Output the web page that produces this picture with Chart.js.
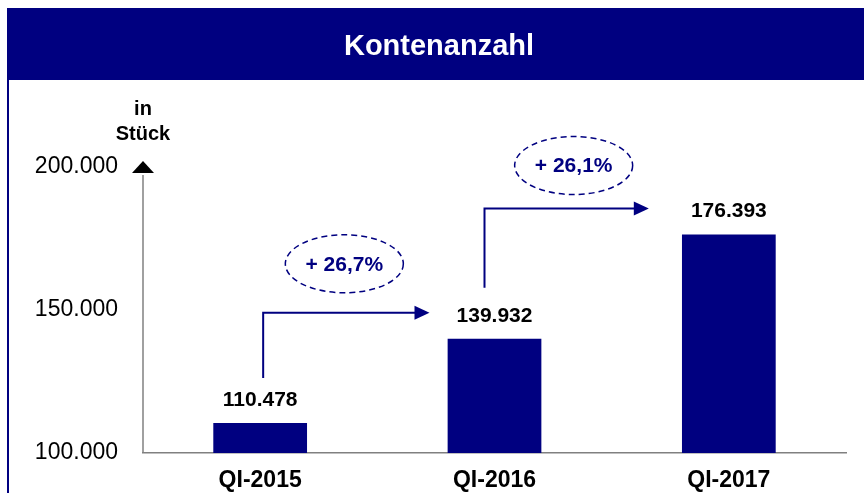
<!DOCTYPE html>
<html>
<head>
<meta charset="utf-8">
<script src="https://cdn.jsdelivr.net/npm/chart.js@4"></script>
<style>
  html, body { margin: 0; padding: 0; background: #fff; }
  #wrap { width: 864px; height: 493px; }
</style>
</head>
<body>
<div id="wrap"><canvas id="bar_chart" width="864" height="493"></canvas></div>
<script>
var bar_chart = document.getElementById('bar_chart');

// data
const categories = ['QI-2015', 'QI-2016', 'QI-2017'];
const accounts = [110478, 139932, 176393];
const growthLabels = ['+ 26,7%', '+ 26,1%'];
const yTicks = [100000, 150000, 200000];

const navy = '#000080';
const font = '"Liberation Sans", Arial, sans-serif';

function fmt(v) {
  return v.toLocaleString('de-DE');
}

// title bar, axis arrow, value labels, growth arrows
const decor = {
  id: 'decor',
  beforeDraw(chart) {
    const ctx = chart.ctx;
    ctx.save();
    ctx.fillStyle = '#fff';
    ctx.fillRect(0, 0, chart.width, chart.height);
    ctx.fillStyle = navy;
    ctx.fillRect(7, 8, chart.width - 7, 72);
    ctx.strokeStyle = navy;
    ctx.lineWidth = 2;
    ctx.beginPath();
    ctx.moveTo(8, 80);
    ctx.lineTo(8, chart.height);
    ctx.stroke();
    ctx.fillStyle = '#fff';
    ctx.font = 'bold 29px ' + font;
    ctx.textAlign = 'center';
    ctx.textBaseline = 'middle';
    ctx.fillText('Kontenanzahl', 439, 47);
    ctx.restore();
  },
  afterDraw(chart) {
    const ctx = chart.ctx;
    const y = chart.scales.y;
    const area = chart.chartArea;
    const top = y.getPixelForValue(200000);
    ctx.save();

    // y axis line + triangle
    ctx.strokeStyle = '#808080';
    ctx.lineWidth = 1.5;
    ctx.beginPath();
    ctx.moveTo(area.left, top + 8);
    ctx.lineTo(area.left, area.bottom);
    ctx.stroke();
    ctx.fillStyle = '#000';
    ctx.beginPath();
    ctx.moveTo(area.left - 11, top + 6);
    ctx.lineTo(area.left + 11, top + 6);
    ctx.lineTo(area.left, top - 6);
    ctx.closePath();
    ctx.fill();

    // unit
    ctx.font = 'bold 20px ' + font;
    ctx.textAlign = 'center';
    ctx.textBaseline = 'middle';
    ctx.fillText('in', area.left, 109);
    ctx.fillText('Stück', area.left, 134);

    // value labels
    ctx.font = 'bold 21px ' + font;
    const meta = chart.getDatasetMeta(0);
    meta.data.forEach(function (bar, i) {
      ctx.fillText(fmt(accounts[i]), bar.x, bar.y - 23);
    });

    // growth arrows
    const offs = [
      { dx0: 3, dy0: -45, dx1: -65, dy1: -26, ex: -2, ey: -49 },
      { dx0: -10, dy0: -51, dx1: -80, dy1: -26, ex: 7, ey: -43 }
    ];
    growthLabels.forEach(function (lbl, i) {
      const a = meta.data[i], b = meta.data[i + 1], o = offs[i];
      const x0 = a.x + o.dx0, y0 = a.y + o.dy0;
      const x1 = b.x + o.dx1, y1 = b.y + o.dy1;
      ctx.strokeStyle = navy;
      ctx.fillStyle = navy;
      ctx.lineWidth = 2;
      ctx.setLineDash([]);
      ctx.beginPath();
      ctx.moveTo(x0, y0);
      ctx.lineTo(x0, y1);
      ctx.lineTo(x1 - 14, y1);
      ctx.stroke();
      ctx.beginPath();
      ctx.moveTo(x1, y1);
      ctx.lineTo(x1 - 15, y1 - 7);
      ctx.lineTo(x1 - 15, y1 + 7);
      ctx.closePath();
      ctx.fill();

      const cx = (x0 + x1) / 2 + o.ex, cy = y1 + o.ey;
      ctx.lineWidth = 1.5;
      ctx.setLineDash([6, 4]);
      ctx.beginPath();
      ctx.ellipse(cx, cy, 59, 29, 0, 0, Math.PI * 2);
      ctx.stroke();
      ctx.setLineDash([]);
      ctx.font = 'bold 21px ' + font;
      ctx.fillText(lbl, cx, cy + 1);
    });
    ctx.restore();
  }
};

const data_bar = {
  labels: categories,
  datasets: [{
    label: 'Konten',
    data: accounts,
    backgroundColor: navy,
    categoryPercentage: 1,
    barPercentage: 0.4
  }]
};

var barChart = new Chart(bar_chart, {
  type: 'bar',
  data: data_bar,
  plugins: [decor],
  options: {
    responsive: false,
    animation: false,
    layout: { padding: { left: 0, top: 167, right: 18, bottom: 0 } },
    plugins: {
      legend: { display: false },
      tooltip: { enabled: false }
    },
    scales: {
      x: {
        grid: { display: false, drawTicks: false },
        border: { display: true, color: '#808080', width: 1.5 },
        ticks: {
          color: '#000',
          font: { family: font, size: 23, weight: 'bold' },
          padding: 14
        },
        afterFit: function (s) { s.height = 40; }
      },
      y: {
        min: 100000,
        max: 200000,
        grid: { display: false, drawTicks: false },
        border: { display: false },
        afterBuildTicks: function (s) {
          s.ticks = yTicks.map(function (v) { return { value: v }; });
        },
        ticks: {
          color: '#000',
          font: { family: font, size: 23 },
          padding: 25,
          callback: function (v) { return fmt(v); }
        },
        afterFit: function (s) { s.width = 143; }
      }
    }
  }
});
</script>
</body>
</html>
